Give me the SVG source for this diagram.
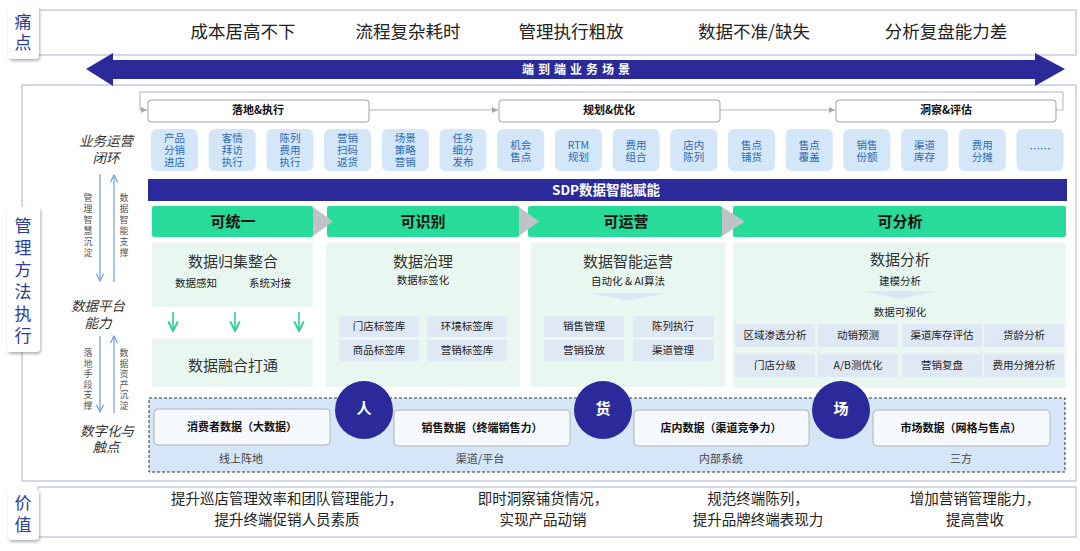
<svg xmlns="http://www.w3.org/2000/svg" width="1080" height="551" viewBox="0 0 1080 551">
<defs>
<filter id="sh" x="-40%" y="-20%" width="180%" height="150%">
<feDropShadow dx="1" dy="2" stdDeviation="1.6" flood-color="#000" flood-opacity="0.3"/>
</filter>
<marker id="ga" viewBox="0 0 6 6" refX="6" refY="3" markerWidth="6" markerHeight="6" orient="auto" markerUnits="userSpaceOnUse">
<path d="M0,0 L6,3 L0,6 Z" fill="#a9a9a9"/>
</marker>
<marker id="ba" viewBox="0 0 10 10" refX="9" refY="5" markerWidth="9" markerHeight="9" orient="auto" markerUnits="userSpaceOnUse">
<path d="M1,1 L9,5 L1,9" fill="none" stroke="#6f9fd6" stroke-width="1.3"/>
</marker>
<marker id="gr" viewBox="0 0 10 10" refX="9" refY="5" markerWidth="12" markerHeight="12" orient="auto" markerUnits="userSpaceOnUse">
<path d="M1,1 L9,5 L1,9" fill="none" stroke="#2bd38c" stroke-width="1.6"/>
</marker>
<style>
text{font-family:"Noto Sans CJK SC","Noto Sans",sans-serif}
.tab{fill:#fff;filter:url(#sh)}
.tabt{font-size:17px;fill:#2f3c99;text-anchor:middle}
.frame{fill:#fff;stroke:#a9b3d6;stroke-width:1}
.pain{font-size:17.5px;fill:#222;text-anchor:middle}
.ph{fill:#fff;stroke:#a3a3a3;stroke-width:1}
.pht{font-size:11px;font-weight:bold;fill:#111;text-anchor:middle}
.tile{fill:#d3e7f9}
.tt{font-size:10.5px;fill:#2b6ab1;text-anchor:middle}
.lbl{font-size:13.5px;fill:#333;text-anchor:middle;font-style:italic}
.vt{font-size:9px;fill:#555;text-anchor:middle}
.navy{fill:#2b2a9b}
.green{fill:#27dc9a}
.gh{font-size:15px;font-weight:bold;fill:#111;text-anchor:middle}
.chev{fill:#bfc3c7}
.panel{fill:#e8f8f1}
.big{font-size:15px;fill:#333;text-anchor:middle}
.sm{font-size:10.5px;fill:#222;text-anchor:middle}
.tag{fill:#dfe8f5}
.dbox{fill:#f6f9fd;stroke:#b4b4b4;stroke-width:1}
.dt{font-size:11px;font-weight:bold;fill:#111;text-anchor:middle}
.ct{font-size:15px;font-weight:bold;fill:#fff;text-anchor:middle}
.src{font-size:11px;fill:#444;text-anchor:middle}
.val{font-size:14.5px;fill:#222;text-anchor:middle}
</style>
</defs>
<rect width="1080" height="551" fill="#fff"/>

<!-- pain row -->
<g id="pain">
<rect class="frame" x="38" y="10" width="1038" height="45"/>
<text class="pain" x="243" y="38">成本居高不下</text>
<text class="pain" x="408" y="38">流程复杂耗时</text>
<text class="pain" x="571" y="38">管理执行粗放</text>
<text class="pain" x="754" y="38">数据不准/缺失</text>
<text class="pain" x="946" y="38">分析复盘能力差</text>
</g>
<g id="tab-pain">
<rect class="tab" x="8" y="6" width="31" height="53" rx="4"/>
<text class="tabt"><tspan x="23" y="28">痛</tspan><tspan x="23" y="49">点</tspan></text>
</g>

<!-- main frame -->
<g id="main-frame">
<rect class="frame" x="22" y="85" width="1054" height="396"/>
</g>

<!-- big arrow -->
<g id="e2e">
<polygon class="navy" points="86,69 113,53 113,60 1035,60 1035,53 1065,69 1035,86 1035,79 113,79 113,86"/>
<text x="578" y="74" font-size="12" font-weight="bold" fill="#fff" text-anchor="middle" letter-spacing="4">端到端业务场景</text>
</g>

<!-- connectors -->
<g id="connectors" fill="none">
<path d="M1056,110 H1063 V92 H140 V110 H147" stroke="#b3b3b3" stroke-width="1" marker-end="url(#ga)"/>
<path d="M369,110 H498" stroke="#b3b3b3" stroke-width="1" marker-end="url(#ga)"/>
<path d="M720,110 H835" stroke="#b3b3b3" stroke-width="1" marker-end="url(#ga)"/>
<path d="M100,174 V281" stroke="#6f9fd6" stroke-width="1.2" marker-end="url(#ba)"/>
<path d="M114,282 V175" stroke="#6f9fd6" stroke-width="1.2" marker-end="url(#ba)"/>
<path d="M100,336 V412" stroke="#6f9fd6" stroke-width="1.2" marker-end="url(#ba)"/>
<path d="M114,413 V336" stroke="#6f9fd6" stroke-width="1.2" marker-end="url(#ba)"/>
<path d="M173,312 V331" stroke="#2bd38c" stroke-width="1.6" marker-end="url(#gr)"/>
<path d="M235,312 V331" stroke="#2bd38c" stroke-width="1.6" marker-end="url(#gr)"/>
<path d="M299,312 V331" stroke="#2bd38c" stroke-width="1.6" marker-end="url(#gr)"/>
</g>

<!-- phases -->
<g id="phase-1">
<rect class="ph" x="148" y="100" width="221" height="22" rx="3"/>
<text class="pht" x="258" y="114">落地&amp;执行</text>
</g>
<g id="phase-2">
<rect class="ph" x="499" y="100" width="221" height="22" rx="3"/>
<text class="pht" x="609" y="114">规划&amp;优化</text>
</g>
<g id="phase-3">
<rect class="ph" x="836" y="100" width="220" height="22" rx="3"/>
<text class="pht" x="946" y="114">洞察&amp;评估</text>
</g>

<!-- left labels -->
<g id="left-labels">
<text class="lbl"><tspan x="106" y="146">业务运营</tspan><tspan x="106" y="163">闭环</tspan></text>
<text class="lbl"><tspan x="98" y="311">数据平台</tspan><tspan x="98" y="328">能力</tspan></text>
<text class="lbl"><tspan x="107" y="436">数字化与</tspan><tspan x="106" y="452">触点</tspan></text>
<text class="vt"><tspan x="88" y="201">管</tspan><tspan x="88" y="212">理</tspan><tspan x="88" y="223">智</tspan><tspan x="88" y="234">慧</tspan><tspan x="88" y="245">沉</tspan><tspan x="88" y="256">淀</tspan></text>
<text class="vt"><tspan x="124" y="201">数</tspan><tspan x="124" y="212">据</tspan><tspan x="124" y="223">智</tspan><tspan x="124" y="234">能</tspan><tspan x="124" y="245">支</tspan><tspan x="124" y="256">撑</tspan></text>
<text class="vt"><tspan x="88" y="356">落</tspan><tspan x="88" y="366.5">地</tspan><tspan x="88" y="377">手</tspan><tspan x="88" y="387.5">段</tspan><tspan x="88" y="398">支</tspan><tspan x="88" y="408.5">撑</tspan></text>
<text class="vt"><tspan x="124" y="356">数</tspan><tspan x="124" y="366.5">据</tspan><tspan x="124" y="377">资</tspan><tspan x="124" y="387.5">产</tspan><tspan x="124" y="398">沉</tspan><tspan x="124" y="408.5">淀</tspan></text>
</g>

<!-- tiles -->
<g id="tiles">
<rect class="tile" x="151" y="129" width="47" height="42" rx="6"/>
<rect class="tile" x="208.7" y="129" width="47" height="42" rx="6"/>
<rect class="tile" x="266.4" y="129" width="47" height="42" rx="6"/>
<rect class="tile" x="324.1" y="129" width="47" height="42" rx="6"/>
<rect class="tile" x="381.8" y="129" width="47" height="42" rx="6"/>
<rect class="tile" x="439.5" y="129" width="47" height="42" rx="6"/>
<rect class="tile" x="497.2" y="129" width="47" height="42" rx="6"/>
<rect class="tile" x="554.9" y="129" width="47" height="42" rx="6"/>
<rect class="tile" x="612.6" y="129" width="47" height="42" rx="6"/>
<rect class="tile" x="670.3" y="129" width="47" height="42" rx="6"/>
<rect class="tile" x="728" y="129" width="47" height="42" rx="6"/>
<rect class="tile" x="785.7" y="129" width="47" height="42" rx="6"/>
<rect class="tile" x="843.4" y="129" width="47" height="42" rx="6"/>
<rect class="tile" x="901.1" y="129" width="47" height="42" rx="6"/>
<rect class="tile" x="958.8" y="129" width="47" height="42" rx="6"/>
<rect class="tile" x="1016.5" y="129" width="47" height="42" rx="6"/>
<text class="tt"><tspan x="174.5" y="142">产品</tspan><tspan x="174.5" y="154">分销</tspan><tspan x="174.5" y="166">进店</tspan></text>
<text class="tt"><tspan x="232.2" y="142">客情</tspan><tspan x="232.2" y="154">拜访</tspan><tspan x="232.2" y="166">执行</tspan></text>
<text class="tt"><tspan x="289.9" y="142">陈列</tspan><tspan x="289.9" y="154">费用</tspan><tspan x="289.9" y="166">执行</tspan></text>
<text class="tt"><tspan x="347.6" y="142">营销</tspan><tspan x="347.6" y="154">扫码</tspan><tspan x="347.6" y="166">返货</tspan></text>
<text class="tt"><tspan x="405.3" y="142">场景</tspan><tspan x="405.3" y="154">策略</tspan><tspan x="405.3" y="166">营销</tspan></text>
<text class="tt"><tspan x="463" y="142">任务</tspan><tspan x="463" y="154">细分</tspan><tspan x="463" y="166">发布</tspan></text>
<text class="tt"><tspan x="520.7" y="148.5">机会</tspan><tspan x="520.7" y="161">售点</tspan></text>
<text class="tt"><tspan x="578.4" y="148.5">RTM</tspan><tspan x="578.4" y="161">规划</tspan></text>
<text class="tt"><tspan x="636.1" y="148.5">费用</tspan><tspan x="636.1" y="161">组合</tspan></text>
<text class="tt"><tspan x="693.8" y="148.5">店内</tspan><tspan x="693.8" y="161">陈列</tspan></text>
<text class="tt"><tspan x="751.5" y="148.5">售点</tspan><tspan x="751.5" y="161">铺货</tspan></text>
<text class="tt"><tspan x="809.2" y="148.5">售点</tspan><tspan x="809.2" y="161">覆盖</tspan></text>
<text class="tt"><tspan x="866.9" y="148.5">销售</tspan><tspan x="866.9" y="161">份额</tspan></text>
<text class="tt"><tspan x="924.6" y="148.5">渠道</tspan><tspan x="924.6" y="161">库存</tspan></text>
<text class="tt"><tspan x="982.3" y="148.5">费用</tspan><tspan x="982.3" y="161">分摊</tspan></text>
<text class="tt" x="1040" y="153">……</text>
</g>

<!-- SDP bar -->
<g id="sdp">
<rect class="navy" x="148" y="179" width="919" height="22"/>
<text x="552" y="195" font-size="13.5" font-weight="bold" fill="#fff">SDP数据智能赋能</text>
</g>

<!-- column 1 -->
<g id="col-unify">
<rect class="green" x="152" y="206" width="161" height="31" rx="2"/>
<text class="gh" x="233" y="227">可统一</text>
<rect class="panel" x="152" y="243" width="161" height="64"/>
<text class="big" x="233" y="267">数据归集整合</text>
<text class="sm" x="196" y="287">数据感知</text>
<text class="sm" x="270" y="287">系统对接</text>
<rect class="panel" x="152" y="339" width="161" height="48"/>
<text class="big" x="233" y="371">数据融合打通</text>
</g>
<!-- column 2 -->
<g id="col-identify">
<rect class="green" x="327" y="206" width="192" height="31" rx="2"/>
<text class="gh" x="423" y="227">可识别</text>
<rect class="panel" x="326" y="243" width="194" height="144"/>
<text class="big" x="423" y="267">数据治理</text>
<text class="sm" x="423" y="284">数据标签化</text>
<rect class="tag" x="339" y="316" width="80" height="21"/>
<rect class="tag" x="427" y="316" width="80" height="21"/>
<rect class="tag" x="339" y="340" width="80" height="21"/>
<rect class="tag" x="427" y="340" width="80" height="21"/>
<text class="sm" x="379" y="330">门店标签库</text>
<text class="sm" x="467" y="330">环境标签库</text>
<text class="sm" x="379" y="354">商品标签库</text>
<text class="sm" x="467" y="354">营销标签库</text>
</g>
<!-- column 3 -->
<g id="col-operate">
<rect class="green" x="528" y="206" width="194" height="31" rx="2"/>
<text class="gh" x="626" y="227">可运营</text>
<rect class="panel" x="531" y="243" width="194" height="144"/>
<text class="big" x="628" y="267">数据智能运营</text>
<text class="sm" x="628" y="285">自动化 &amp; AI算法</text>
<polygon points="588,293 668,293 628,301" fill="#dbe7f7"/>
<rect class="tag" x="544" y="316" width="80" height="21"/>
<rect class="tag" x="633" y="316" width="81" height="21"/>
<rect class="tag" x="544" y="340" width="80" height="21"/>
<rect class="tag" x="633" y="340" width="81" height="21"/>
<text class="sm" x="584" y="330">销售管理</text>
<text class="sm" x="673" y="330">陈列执行</text>
<text class="sm" x="584" y="354">营销投放</text>
<text class="sm" x="673" y="354">渠道管理</text>
</g>
<!-- column 4 -->
<g id="col-analyze">
<rect class="green" x="733" y="206" width="333" height="31" rx="2"/>
<text class="gh" x="900" y="227">可分析</text>
<rect class="panel" x="733" y="243" width="333" height="145"/>
<text class="big" x="900" y="265">数据分析</text>
<text class="sm" x="900" y="285">建模分析</text>
<polygon points="862,291 938,291 900,299" fill="#dbe7f7"/>
<text class="sm" x="900" y="316">数据可视化</text>
<rect class="tag" x="735" y="324" width="80" height="23"/>
<rect class="tag" x="818" y="324" width="80" height="23"/>
<rect class="tag" x="902" y="324" width="80" height="23"/>
<rect class="tag" x="984" y="324" width="80" height="23"/>
<rect class="tag" x="735" y="354" width="80" height="23"/>
<rect class="tag" x="818" y="354" width="80" height="23"/>
<rect class="tag" x="902" y="354" width="80" height="23"/>
<rect class="tag" x="984" y="354" width="80" height="23"/>
<text class="sm" x="775" y="339">区域渗透分析</text>
<text class="sm" x="858" y="339">动销预测</text>
<text class="sm" x="942" y="339">渠道库存评估</text>
<text class="sm" x="1024" y="339">货龄分析</text>
<text class="sm" x="775" y="369">门店分级</text>
<text class="sm" x="858" y="369">A/B测优化</text>
<text class="sm" x="942" y="369">营销复盘</text>
<text class="sm" x="1024" y="369">费用分摊分析</text>
</g>
<g id="chevrons">
<polygon class="chev" points="313,207 333,221.5 313,236"/>
<polygon class="chev" points="519,207 539,221.5 519,236"/>
<polygon class="chev" points="722,207 745,221.5 722,236"/>
</g>

<!-- data layer -->
<g id="data-layer">
<rect x="149" y="398" width="916" height="74" fill="#d4e6f8" stroke="#333" stroke-width="1" stroke-dasharray="3,2"/>
<rect class="dbox" x="154" y="409" width="176" height="36" rx="4"/>
<text class="dt" x="242" y="431">消费者数据（大数据）</text>
<rect class="dbox" x="394" y="410" width="176" height="36" rx="4"/>
<text class="dt" x="482" y="432">销售数据（终端销售力）</text>
<rect class="dbox" x="634" y="410" width="175" height="36" rx="4"/>
<text class="dt" x="721" y="432">店内数据（渠道竞争力）</text>
<rect class="dbox" x="873" y="410" width="177" height="36" rx="4"/>
<text class="dt" x="961" y="432">市场数据（网格与售点）</text>
<text class="src" x="241" y="463">线上阵地</text>
<text class="src" x="480" y="463">渠道/平台</text>
<text class="src" x="721" y="463">内部系统</text>
<text class="src" x="961" y="463">三方</text>
</g>
<g id="circle-ren">
<circle class="navy" cx="364" cy="410" r="29"/>
<text class="ct" x="364" y="414">人</text>
</g>
<g id="circle-huo">
<circle class="navy" cx="603" cy="410" r="29"/>
<text class="ct" x="603" y="414">货</text>
</g>
<g id="circle-chang">
<circle class="navy" cx="841" cy="410" r="29"/>
<text class="ct" x="841" y="414">场</text>
</g>

<!-- management tab -->
<g id="tab-mgmt">
<rect class="tab" x="7" y="207" width="33" height="145" rx="4"/>
<text class="tabt"><tspan x="23" y="232">管</tspan><tspan x="23" y="254">理</tspan><tspan x="23" y="276">方</tspan><tspan x="23" y="298">法</tspan><tspan x="23" y="320">执</tspan><tspan x="23" y="342">行</tspan></text>
</g>

<!-- value row -->
<g id="value">
<rect class="frame" x="38" y="487" width="1038" height="50"/>
<text class="val"><tspan x="287" y="504">提升巡店管理效率和团队管理能力，</tspan><tspan x="287" y="525">提升终端促销人员素质</tspan></text>
<text class="val"><tspan x="543" y="504">即时洞察铺货情况，</tspan><tspan x="543" y="525">实现产品动销</tspan></text>
<text class="val"><tspan x="758" y="504">规范终端陈列，</tspan><tspan x="758" y="525">提升品牌终端表现力</tspan></text>
<text class="val"><tspan x="975" y="504">增加营销管理能力，</tspan><tspan x="975" y="525">提高营收</tspan></text>
</g>
<g id="tab-value">
<rect class="tab" x="8" y="489" width="31" height="51" rx="4"/>
<text class="tabt"><tspan x="23" y="509">价</tspan><tspan x="23" y="531">值</tspan></text>
</g>
</svg>
